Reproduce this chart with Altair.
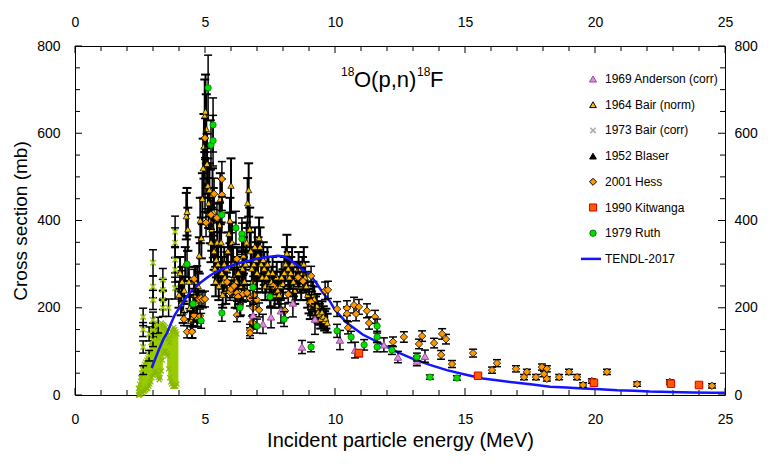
import altair as alt
import pandas as pd

FONT = "Liberation Sans"
W, H = 650, 349

# ---------------- data ----------------
TENDL_E = [2.95, 3.0, 3.2, 3.4, 3.54, 3.7, 3.85, 4.04, 4.3, 4.5,
           4.81, 5.1, 5.3, 5.58, 5.9, 6.35, 6.7, 7.12, 7.5, 7.8,
           8.0, 8.2, 8.38, 8.6, 8.8, 9.04, 9.3, 9.54, 9.8, 10.0,
           10.46, 11.08, 11.73, 12.38, 13.0, 13.65, 14.3, 15.08, 15.69, 16.3,
           17.0, 17.6, 18.27, 18.9, 19.54, 20.2, 20.85, 21.5, 22.1, 22.9,
           23.77, 24.5, 25.0]
TENDL_MB = [62, 70, 100, 128, 142, 165, 185, 202, 225, 240,
            257, 270, 278, 287, 294, 303, 308, 314, 317, 319,
            318, 313, 305, 295, 285, 275, 255, 234, 215, 195,
            165, 138, 119, 99, 83, 69, 57, 46, 38, 33,
            28, 24, 19, 17, 15, 13, 11, 10, 8, 7,
            6, 5, 5]

BAIR64_E = [4.00, 4.04, 4.08, 4.12, 4.16, 4.20, 4.24, 4.28, 4.31, 4.34,
            4.38, 4.42, 4.46, 4.50, 4.54, 4.58, 4.62, 4.66, 4.70, 4.74,
            4.78, 4.82, 4.86, 4.90, 4.93, 4.96, 4.99, 5.02, 5.05, 5.08,
            5.11, 5.14, 5.17, 5.20, 5.23, 5.26, 5.29, 5.32, 5.35, 5.38,
            5.41, 5.44, 5.47, 5.50, 5.53, 5.56, 5.59, 5.62, 5.65, 5.68,
            5.71, 5.74, 5.77, 5.80, 5.84, 5.88, 5.92, 5.96, 6.00, 6.04,
            6.08, 6.12, 6.16, 6.20, 6.24, 6.28, 6.32, 6.36, 6.40, 6.44,
            6.48, 6.52, 6.56, 6.60, 6.64, 6.68, 6.72, 6.76, 6.80, 6.84,
            6.88, 6.92, 6.96, 7.00, 7.04, 7.08, 7.12, 7.16, 7.20, 7.24,
            7.28, 7.32, 7.36, 7.40, 7.44, 7.48, 7.52, 7.56, 7.60, 7.64,
            7.68, 7.72, 7.76, 7.80, 7.85, 7.90, 7.95, 8.00, 8.05, 8.10,
            8.15, 8.20, 8.25, 8.30, 8.35, 8.40, 8.45, 8.50, 8.55, 8.60,
            8.65, 8.70, 8.75, 8.80, 8.85, 8.90, 8.95, 9.00, 9.05, 9.10,
            9.15, 9.20, 9.25, 9.30, 9.35, 9.40, 9.45, 9.50, 9.55, 9.60,
            9.65, 9.70]
BAIR64_MB = [230, 280, 210, 260, 190, 240, 300, 410, 420, 380,
             260, 200, 170, 150, 180, 230, 260, 210, 180, 250,
             320, 400, 360, 450, 520, 570, 640, 650, 610, 530,
             480, 440, 470, 400, 350, 380, 460, 420, 330, 290,
             260, 310, 350, 300, 250, 390, 450, 350, 280, 230,
             260, 300, 270, 240, 290, 330, 370, 400, 480, 350,
             300, 270, 230, 260, 300, 280, 240, 210, 250, 290,
             320, 260, 300, 350, 440, 470, 380, 330, 290, 260,
             300, 340, 310, 280, 320, 360, 340, 300, 270, 310,
             290, 250, 270, 300, 280, 250, 230, 260, 280, 250,
             230, 250, 270, 240, 230, 250, 270, 255, 280, 300,
             325, 290, 270, 280, 300, 260, 240, 250, 270, 290,
             270, 250, 280, 300, 270, 250, 230, 215, 200, 210,
             230, 220, 200, 205, 190, 185, 175, 190, 180, 170,
             175, 165]
BAIR64_REL_ERR = 0.13

B73_E = [2.62, 2.62, 2.62, 2.62, 2.85, 2.85, 3.00, 3.00, 3.00, 3.00, 3.00, 3.00,
         3.20, 3.38, 3.38, 3.38, 3.38, 3.60, 3.85, 3.85, 3.85, 3.85, 3.85]
B73_MB = [57, 110, 150, 179, 90, 140, 126, 149, 172, 218, 248, 303,
          160, 200, 218, 241, 264, 200, 245, 287, 310, 349, 374]
B73_ERR = [10, 14, 16, 20, 12, 16, 15, 16, 18, 22, 25, 30,
           18, 20, 22, 24, 26, 20, 25, 28, 30, 34, 36]

B73_DENSE_E = [2.44, 2.48, 2.52, 2.56, 2.60, 2.64, 2.68, 2.72, 2.76, 2.80,
               2.84, 2.88, 2.92, 2.96, 3.00, 3.04, 3.08, 3.12, 3.16, 3.20,
               3.24, 3.28, 3.32, 3.36, 3.40, 3.44, 3.48, 3.52, 3.56, 3.60,
               3.64, 3.68, 3.72, 3.76, 3.80, 3.84, 3.88, 3.92]
B73_DENSE_LO = [0, 0, 2, 5, 5, 8, 10, 12, 15, 15,
                20, 25, 30, 40, 45, 50, 55, 50, 45, 40,
                35, 40, 55, 80, 95, 100, 100, 95, 90, 60,
                40, 30, 25, 20, 20, 20, 20, 25]
B73_DENSE_HI = [15, 25, 40, 50, 60, 65, 70, 75, 80, 85,
                90, 100, 120, 150, 160, 165, 160, 150, 140, 130,
                140, 155, 165, 162, 160, 158, 155, 150, 145, 130,
                120, 135, 145, 150, 155, 150, 145, 140]

BLASER_E = [4.10, 4.40, 4.70, 5.00, 5.30, 5.60, 6.00, 6.50, 7.00]
BLASER_MB = [250, 230, 260, 480, 360, 300, 330, 280, 270]
BLASER_ERR = [35, 32, 36, 60, 45, 40, 42, 36, 35]

HESS_E = [4.19, 4.31, 4.50, 4.58, 4.58, 4.77, 4.81, 4.85, 4.92, 5.00,
          5.00, 5.04, 5.23, 5.35, 5.46, 5.65, 5.65, 5.85, 5.96, 6.00,
          6.12, 6.23, 6.23, 6.23, 6.27, 6.46, 6.62, 6.73, 6.73, 6.73,
          6.81, 6.85, 6.85, 6.88, 7.00, 7.08, 7.62, 8.08, 8.20, 8.58,
          8.77, 9.08, 9.08, 9.62, 9.73, 10.08, 10.46, 10.46, 10.50, 10.73,
          10.81, 10.92, 11.23, 11.31, 11.54, 12.23, 12.65, 13.23, 13.35, 13.81,
          14.08, 14.12, 14.27, 14.50, 15.31, 16.04, 16.23, 16.96, 17.27, 17.38,
          17.73, 17.96, 18.04, 18.15, 18.15, 18.62, 19.00, 19.31, 19.54, 19.88,
          20.46, 21.62, 22.88, 24.50]
HESS_MB = [174, 145, 145, 266, 183, 220, 181, 222, 218, 220,
           589, 395, 413, 461, 406, 495, 459, 259, 236, 243,
           250, 312, 234, 183, 225, 232, 234, 222, 149, 142,
           167, 165, 200, 229, 218, 195, 250, 193, 231, 270,
           261, 273, 213, 239, 241, 197, 199, 186, 154, 206,
           186, 202, 193, 165, 179, 122, 133, 117, 135, 119,
           92, 140, 128, 71, 96, 57, 73, 60, 41, 53,
           41, 64, 48, 60, 37, 41, 53, 41, 23, 32,
           53, 25, 30, 21]
HESS_ERR = [15, 14, 14, 22, 16, 18, 16, 18, 18, 18,
            45, 32, 33, 36, 32, 40, 36, 21, 19, 20,
            20, 25, 19, 15, 18, 19, 19, 18, 13, 12,
            14, 14, 16, 18, 18, 16, 20, 16, 19, 22,
            21, 22, 17, 20, 20, 17, 17, 16, 14, 18,
            16, 17, 16, 14, 15, 11, 12, 11, 12, 11,
            10, 12, 11, 8, 9, 7, 8, 7, 6, 6,
            6, 7, 6, 7, 5, 6, 6, 6, 5, 5,
            6, 5, 5, 5]

AND_E = [6.85, 7.23, 7.54, 7.92, 8.38, 8.73, 9.23, 10.19, 10.77, 11.88, 12.42, 13.15, 13.46]
AND_MB = [183, 163, 179, 193, 211, 110, 174, 126, 103, 115, 87, 78, 89]
AND_ERR = [25, 22, 25, 28, 32, 15, 35, 22, 18, 16, 13, 11, 14]

KIT_E = [10.92, 15.50, 19.96, 22.92, 24.00]
KIT_MB = [96, 44, 28, 26, 23]
KIT_ERR = [8, 5, 4, 4, 4]

RUTH_E = [4.31, 4.54, 4.85, 5.12, 5.23, 5.31, 5.31, 5.65, 5.65, 6.19,
          6.35, 6.42, 6.42, 6.85, 7.00, 7.50, 8.04, 9.08, 10.08, 10.62,
          11.12, 11.62, 11.62, 11.62, 12.19, 13.15, 13.65, 14.69]
RUTH_MB = [300, 209, 170, 704, 573, 619, 583, 413, 188, 383,
           200, 369, 358, 247, 158, 225, 174, 110, 147, 133,
           115, 158, 133, 110, 103, 87, 41, 39]
RUTH_ERR = [30, 21, 17, 75, 57, 62, 58, 41, 19, 38,
            20, 37, 36, 25, 16, 23, 17, 11, 15, 13,
            12, 16, 13, 11, 10, 9, 5, 5]

X_MAJOR = [0, 5, 10, 15, 20, 25]
X_MINOR = [1, 2, 3, 4, 6, 7, 8, 9, 11, 12, 13, 14, 16, 17, 18, 19, 21, 22, 23, 24]
Y_MAJOR = [0, 200, 400, 600, 800]
Y_MINOR = [50, 100, 150, 250, 300, 350, 450, 500, 550, 650, 700, 750]

LEGEND_LABELS = ["1969 Anderson (corr)", "1964 Bair (norm)", "1973 Bair (corr)",
                 "1952 Blaser", "2001 Hess", "1990 Kitwanga", "1979 Ruth", "TENDL-2017"]

# ---------------- helpers ----------------
X_SCALE = alt.Scale(domain=[0, 25], nice=False, zero=False)
Y_SCALE = alt.Scale(domain=[0, 800], nice=False, zero=False)
XPATH = "M-1,-1L1,1M-1,1L1,-1"


def X(f):
    return alt.X(f, type="quantitative", scale=X_SCALE, axis=None)


def Y(f):
    return alt.Y(f, type="quantitative", scale=Y_SCALE, axis=None)


def err_layers(E, V, ERR, color="black", cap=8, sw=1.3):
    df = pd.DataFrame({"E": E, "lo": [v - e for v, e in zip(V, ERR)],
                       "hi": [v + e for v, e in zip(V, ERR)]})
    base = alt.Chart(df)
    return [
        base.mark_rule(color=color, strokeWidth=sw, opacity=1).encode(x=X("E"), y=Y("lo"), y2="hi"),
        base.mark_tick(color=color, thickness=sw, size=cap, orient="horizontal", opacity=1).encode(x=X("E"), y=Y("lo")),
        base.mark_tick(color=color, thickness=sw, size=cap, orient="horizontal", opacity=1).encode(x=X("E"), y=Y("hi")),
    ]


def pts(E, V, shape, fill, stroke, size, sw=1.0, filled=True):
    df = pd.DataFrame({"E": E, "V": V})
    if filled:
        m = alt.Chart(df).mark_point(shape=shape, filled=True, fill=fill, stroke=stroke,
                                     strokeWidth=sw, size=size, opacity=1)
    else:
        m = alt.Chart(df).mark_point(shape=shape, filled=False, stroke=stroke,
                                     strokeWidth=sw, size=size, opacity=1)
    return m.encode(x=X("E"), y=Y("V"))


layers = []

# axes + inward ticks
tick_df_xM = pd.DataFrame({"t": X_MAJOR})
tick_df_xm = pd.DataFrame({"t": X_MINOR})
tick_df_yM = pd.DataFrame({"t": Y_MAJOR})
tick_df_ym = pd.DataFrame({"t": Y_MINOR})

layers.append(alt.Chart(tick_df_xM).mark_rule(color="black").encode(
    x=alt.X("t:Q", scale=X_SCALE, axis=alt.Axis(orient="bottom", values=X_MAJOR,
            title="Incident particle energy (MeV)", labelPadding=17, titlePadding=4,
            titleFontSize=20)),
    y=alt.value(H), y2=alt.value(H - 7)))
layers.append(alt.Chart(tick_df_xM).mark_rule(color="black").encode(
    x=alt.X("t:Q", scale=X_SCALE, axis=alt.Axis(orient="top", values=X_MAJOR, title="",
            labelPadding=17)),
    y=alt.value(0), y2=alt.value(7)))
layers.append(alt.Chart(tick_df_yM).mark_rule(color="black").encode(
    y=alt.Y("t:Q", scale=Y_SCALE, axis=alt.Axis(orient="left", values=Y_MAJOR,
            title="Cross section (mb)", labelPadding=15, titlePadding=6, titleFontSize=19)),
    x=alt.value(0), x2=alt.value(7)))
layers.append(alt.Chart(tick_df_yM).mark_rule(color="black").encode(
    y=alt.Y("t:Q", scale=Y_SCALE, axis=alt.Axis(orient="right", values=Y_MAJOR, title="",
            labelPadding=9)),
    x=alt.value(W), x2=alt.value(W - 7)))
layers.append(alt.Chart(tick_df_xm).mark_rule(color="black").encode(
    x=X("t"), y=alt.value(H), y2=alt.value(H - 5)))
layers.append(alt.Chart(tick_df_xm).mark_rule(color="black").encode(
    x=X("t"), y=alt.value(0), y2=alt.value(5)))
layers.append(alt.Chart(tick_df_ym).mark_rule(color="black").encode(
    y=Y("t"), x=alt.value(0), x2=alt.value(5)))
layers.append(alt.Chart(tick_df_ym).mark_rule(color="black").encode(
    y=Y("t"), x=alt.value(W), x2=alt.value(W - 5)))

LIME = "#99cc00"
# dense Bair 1973 data (lime blob)
dense = pd.DataFrame({"E": B73_DENSE_E, "lo": B73_DENSE_LO, "hi": B73_DENSE_HI})
layers.append(alt.Chart(dense).mark_rule(color=LIME, strokeWidth=3).encode(
    x=X("E"), y=Y("lo"), y2="hi"))
layers.append(pts(B73_DENSE_E, B73_DENSE_HI, XPATH, None, "#88b800", 25, 1.2, filled=False))
layers.append(pts(B73_DENSE_E, B73_DENSE_LO, XPATH, None, "#88b800", 25, 1.2, filled=False))

# Bair 1973 with error bars
layers += err_layers(B73_E, B73_MB, B73_ERR, sw=1.5)
layers.append(pts(B73_E, B73_MB, XPATH, None, LIME, 30, 1.5, filled=False))

# Blaser
layers += err_layers(BLASER_E, BLASER_MB, BLASER_ERR, sw=1.6)
layers.append(pts(BLASER_E, BLASER_MB, "triangle-up", "black", "black", 35))

# Bair 1964
b64_err = [v * BAIR64_REL_ERR for v in BAIR64_MB]
layers += err_layers(BAIR64_E, BAIR64_MB, b64_err, cap=9, sw=2.0)
layers.append(pts(BAIR64_E, BAIR64_MB, "triangle-up", "#ffc000", "black", 40, 0.7))

# TENDL
tendl = pd.DataFrame({"E": TENDL_E, "V": TENDL_MB})
layers.append(alt.Chart(tendl).mark_line(color="#1414ff", strokeWidth=2.5).encode(x=X("E"), y=Y("V")))

# Hess
layers += err_layers(HESS_E, HESS_MB, HESS_ERR, sw=1.5)
layers.append(pts(HESS_E, HESS_MB, "diamond", "#ff9900", "black", 55, 0.8))

# Anderson
layers += err_layers(AND_E, AND_MB, AND_ERR, sw=1.5)
layers.append(pts(AND_E, AND_MB, "triangle-up", "#d890d8", "#9c4a9c", 55, 1))

# Ruth
layers += err_layers(RUTH_E, RUTH_MB, RUTH_ERR, sw=1.5)
layers.append(pts(RUTH_E, RUTH_MB, "circle", "#00e000", "#007700", 40, 0.8))

# Kitwanga
layers += err_layers(KIT_E, KIT_MB, KIT_ERR, sw=1.5)
layers.append(pts(KIT_E, KIT_MB, "square", "#ff5a00", "#e00000", 56, 1))

# ---------------- legend ----------------
LX_TEXT, LX_MARK = 530, 518
LY0, LDY = 33, 25.7
styles = [
    ("triangle-up", "#d890d8", "#9c4a9c", 50, True),
    ("triangle-up", "#ffc000", "black", 45, True),
    (XPATH, None, "#aaaaaa", 30, False),
    ("triangle-up", "black", "black", 45, True),
    ("diamond", "#ff9900", "black", 50, True),
    ("square", "#ff5a00", "#e00000", 50, True),
    ("circle", "#00e000", "#007700", 40, True),
]
for i, lab in enumerate(LEGEND_LABELS):
    ly = LY0 + LDY * i
    one = pd.DataFrame({"label": [lab]})
    layers.append(alt.Chart(one).mark_text(align="left", baseline="middle", font=FONT,
                                           fontSize=12, color="black").encode(
        text="label:N", x=alt.value(LX_TEXT), y=alt.value(ly)))
    if i < len(styles):
        shp, fill, stroke, size, filled = styles[i]
        if filled:
            mk = alt.Chart(one).mark_point(shape=shp, filled=True, fill=fill, stroke=stroke,
                                           strokeWidth=1, size=size, opacity=1)
        else:
            mk = alt.Chart(one).mark_point(shape=shp, filled=False, stroke=stroke,
                                           strokeWidth=1.5, size=size, opacity=1)
        layers.append(mk.encode(x=alt.value(LX_MARK), y=alt.value(ly)))
    else:
        layers.append(alt.Chart(one).mark_rule(color="#1414ff", strokeWidth=2.5).encode(
            x=alt.value(LX_MARK - 12), x2=alt.value(LX_MARK + 8), y=alt.value(ly)))

# ---------------- title 18O(p,n)18F ----------------
title_parts = [("18", 266, 30, 12), ("O(p,n)", 279, 41, 22), ("18", 342, 30, 12), ("F", 355, 41, 22)]
for txt, tx, ty, fs in title_parts:
    one = pd.DataFrame({"label": [txt]})
    layers.append(alt.Chart(one).mark_text(align="left", baseline="alphabetic", font=FONT,
                                           fontSize=fs, color="black").encode(
        text="label:N", x=alt.value(tx), y=alt.value(ty)))

chart = alt.layer(*layers).properties(
    width=W, height=H,
    padding={"left": 67, "top": 38, "right": 40, "bottom": 60},
    autosize=alt.AutoSizeParams(type="none"),
    background="white",
).resolve_axis(x="independent", y="independent").configure_view(
    stroke="black", strokeWidth=1
).configure_axis(
    labelFont=FONT, labelFontSize=14, labelColor="black",
    titleFont=FONT, titleFontSize=18, titleFontWeight="normal", titleColor="black",
    ticks=False, tickSize=0, domain=False, grid=False, labelFlush=False,
)

chart.save("out.html", embed_options={"renderer": "svg", "actions": False})
